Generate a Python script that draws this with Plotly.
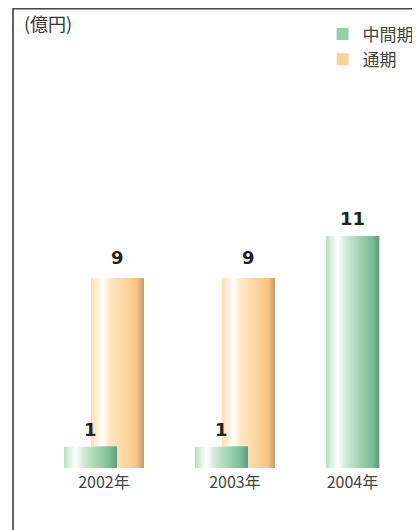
import plotly.graph_objects as go

# ---- data ----
categories = ["2002年", "2003年", "2004年"]
interim_values = [1, 1, 11]        # 中間期
full_year_values = [9, 9]          # 通期 (2002, 2003)
series_names = ["中間期", "通期"]
unit_label = "(億円)"

# ---- style ----
green_stops = [(0.0, "#b7dec3"), (0.10, "#d9efe0"), (0.22, "#ffffff"), (0.36, "#d3ebda"),
               (0.62, "#a3d5b3"), (0.86, "#7dbd96"), (1.0, "#5f9f7c")]
orange_stops = [(0.0, "#fddfb2"), (0.10, "#feecd2"), (0.22, "#ffffff"), (0.36, "#fee6c4"),
                (0.62, "#fdd6a2"), (0.86, "#f8c386"), (1.0, "#c29e6e")]
N = 40
BAR_W = 0.405
FULL_SHIFT = 0.206
FONT = "Noto Sans CJK JP"
PLOT_W = 415
PLOT_H = 460


def _rgb(h):
    h = h.lstrip("#")
    return tuple(int(h[i:i + 2], 16) for i in (0, 2, 4))


def grad(stops, t):
    for (t0, c0), (t1, c1) in zip(stops, stops[1:]):
        if t0 <= t <= t1:
            f = (t - t0) / (t1 - t0)
            a, b = _rgb(c0), _rgb(c1)
            return "rgb(%d,%d,%d)" % tuple(round(a[k] + (b[k] - a[k]) * f) for k in range(3))
    return stops[-1][1]


fig = go.Figure()


def add_gradient_bar(xs, ys, offset0, stops, group):
    for i in range(N):
        f0 = i / N
        fig.add_trace(go.Bar(
            x=xs, y=ys, offset=offset0 + f0 * BAR_W, width=BAR_W * (1 - f0),
            marker=dict(color=grad(stops, (i + 0.5) / N), line=dict(width=0)),
            showlegend=False, legendgroup=group, hoverinfo="skip"))


x_idx = list(range(len(categories)))
full_x = x_idx[:len(full_year_values)]

# full-year bars (behind), interim bars in front
add_gradient_bar([x + FULL_SHIFT for x in full_x], full_year_values, -BAR_W / 2, orange_stops, "full")
add_gradient_bar(x_idx, interim_values, -BAR_W / 2, green_stops, "interim")

# legend entries
fig.add_trace(go.Bar(x=[None], y=[None], name=series_names[0], legendgroup="interim",
                     marker=dict(color="#95cfa8", line=dict(width=0))))
fig.add_trace(go.Bar(x=[None], y=[None], name=series_names[1], legendgroup="full",
                     marker=dict(color="#fdd19c", line=dict(width=0))))

# value labels
label_font = dict(family="DejaVu Sans", size=18, color="#222222", weight="bold")
for x, v in zip(x_idx, interim_values):
    fig.add_annotation(x=x, y=v, text=str(v), showarrow=False, yanchor="bottom", yshift=5,
                       font=label_font)
for x, v in zip(full_x, full_year_values):
    fig.add_annotation(x=x + FULL_SHIFT, y=v, text=str(v), showarrow=False, yanchor="bottom", yshift=8,
                       font=label_font)

# tick positions: centre of each category's bar group
tickvals = [x + (FULL_SHIFT / 2 if x < len(full_year_values) else 0) for x in x_idx]

fig.add_annotation(x=0.022, y=1 - 15 / PLOT_H, xref="paper", yref="paper", text=unit_label,
                   showarrow=False, xanchor="left", yanchor="middle",
                   font=dict(family=FONT, size=18, color="#333333"))

# frame lines (left and top)
fig.add_shape(type="line", xref="paper", yref="paper", x0=0, x1=1, y0=1 - 0.75 / PLOT_H,
              y1=1 - 0.75 / PLOT_H, line=dict(color="#444444", width=1.5))
fig.add_shape(type="line", xref="paper", yref="paper", x0=0, x1=0, y0=-70 / PLOT_H, y1=1,
              line=dict(color="#333333", width=1.5))

x0 = -(82.5 - 5) / 131
fig.update_layout(
    width=420, height=530,
    margin=dict(l=5, r=0, t=0, b=70),
    paper_bgcolor="white", plot_bgcolor="white",
    barmode="overlay",
    showlegend=True,
    legend=dict(x=0.746, y=1 - 8.5 / PLOT_H, xanchor="left", yanchor="top", traceorder="normal",
                font=dict(family=FONT, size=17, color="#444444"), bgcolor="rgba(0,0,0,0)"),
    xaxis=dict(range=[x0, x0 + PLOT_W / 131], tickvals=tickvals, ticktext=categories,
               showgrid=False, zeroline=False, showline=False, ticks="", ticklabelstandoff=3,
               tickfont=dict(family=FONT, size=16, color="#444444"), fixedrange=True),
    yaxis=dict(range=[0, PLOT_H / 21.1], showgrid=False, zeroline=False, showline=False,
               showticklabels=False, fixedrange=True),
    font=dict(family=FONT),
)

fig.write_html("out.html")
